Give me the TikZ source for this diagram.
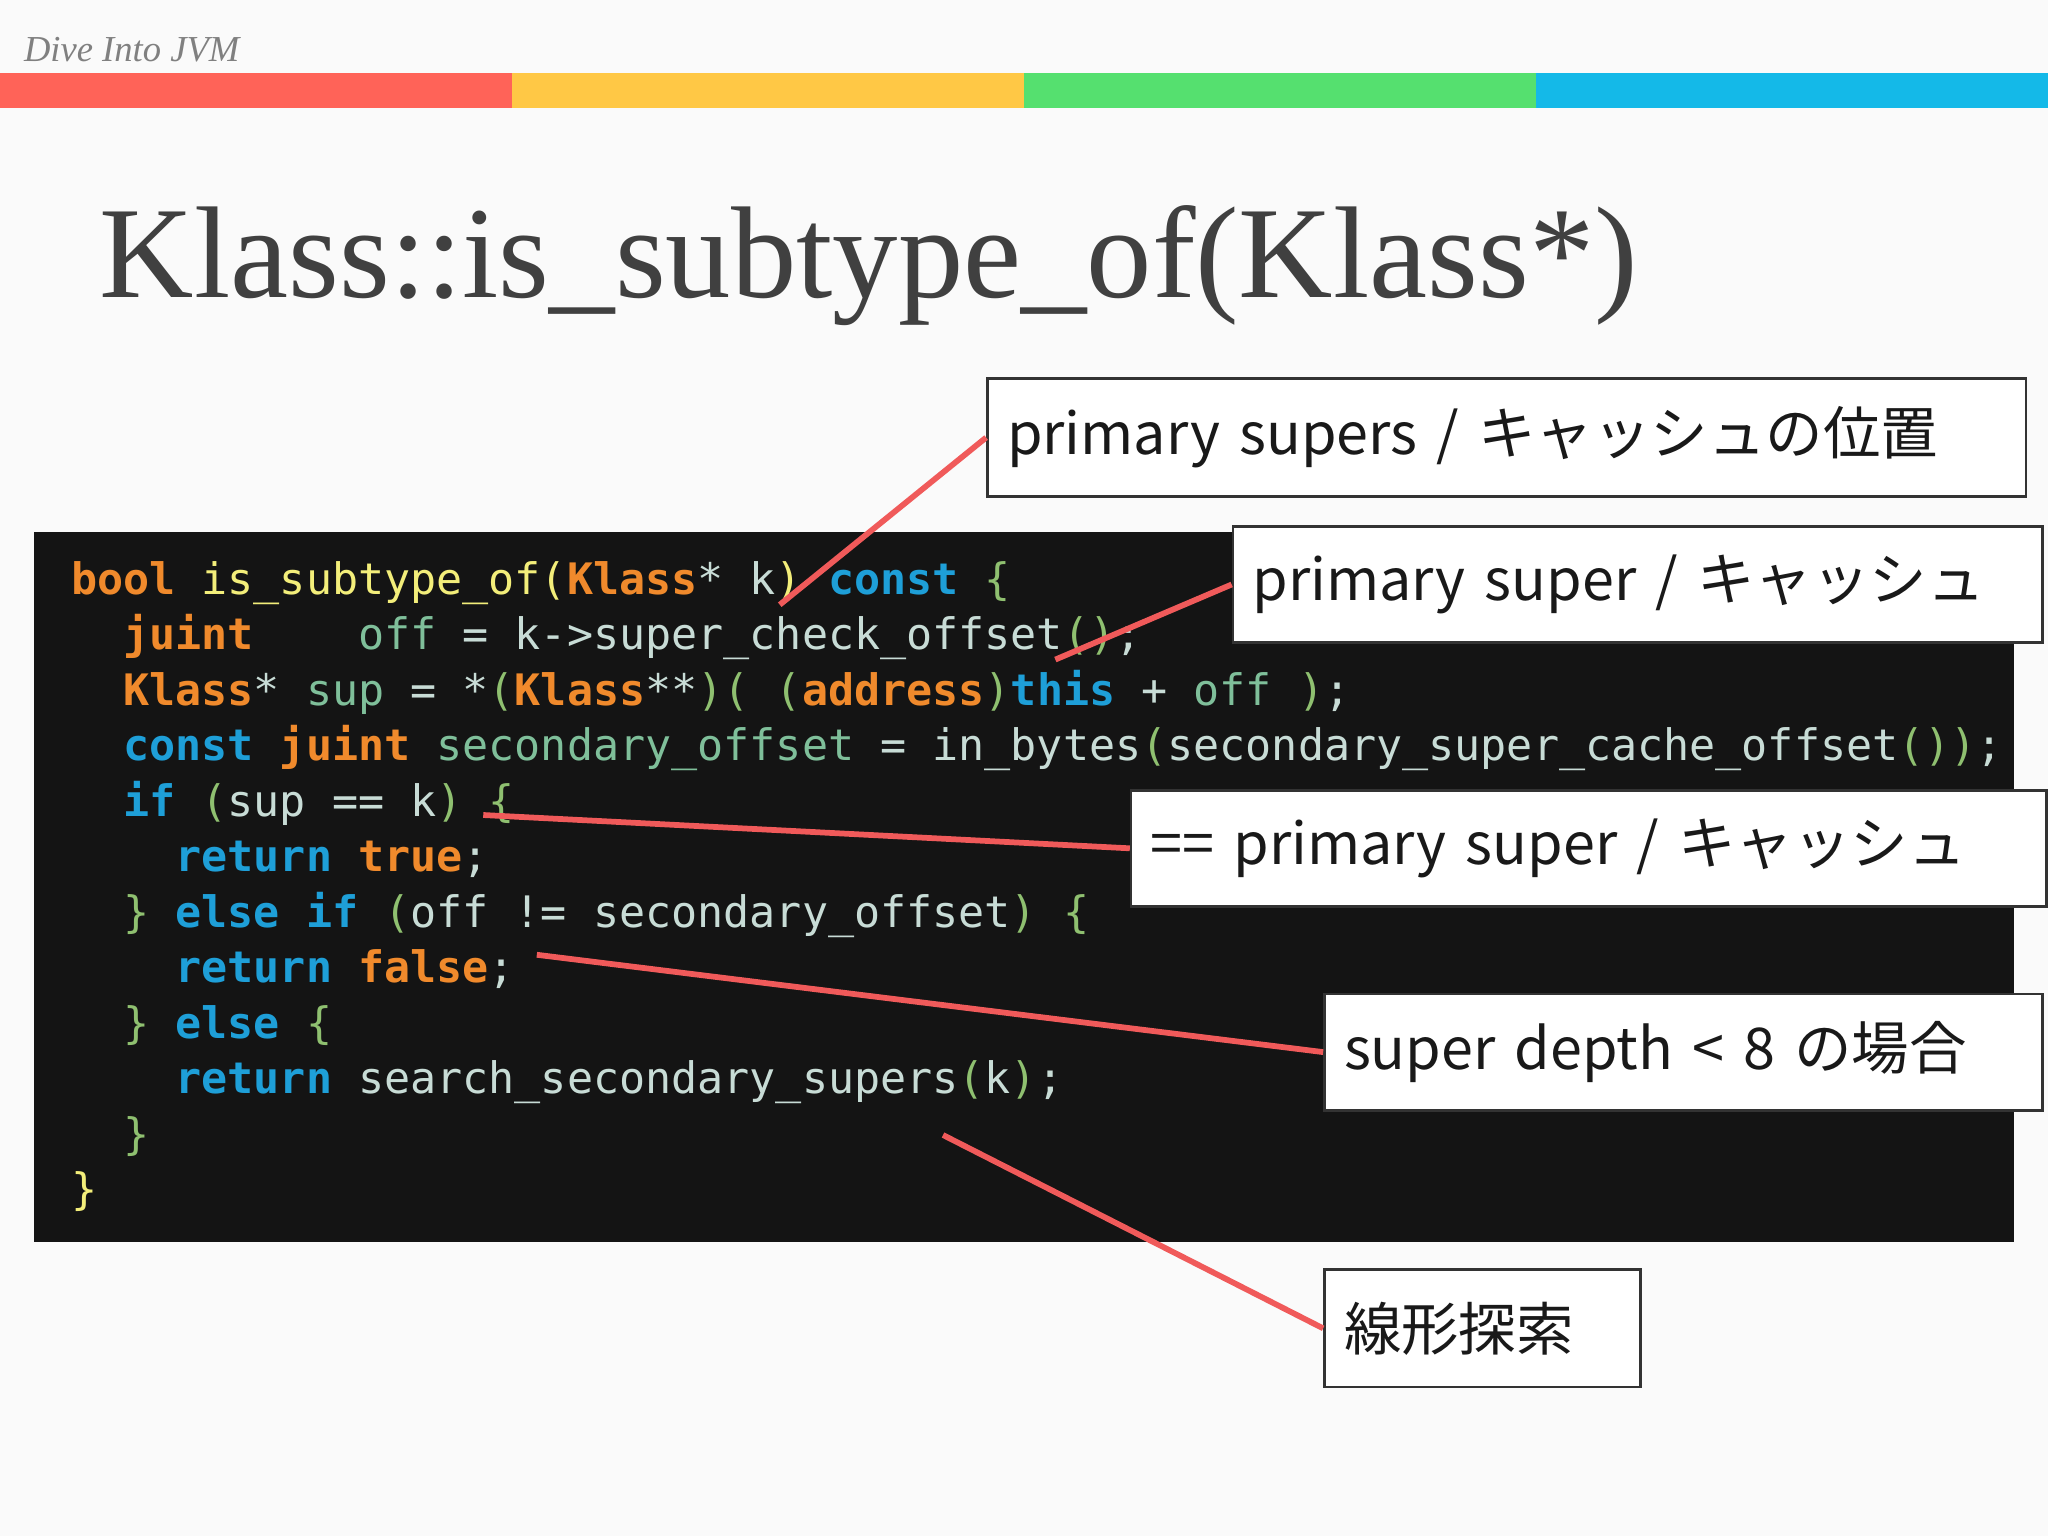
\documentclass[tikz,border=0pt]{standalone}
\usepackage{fontspec}
\setmainfont{Liberation Serif}
\setmonofont{DejaVu Sans Mono}
\newfontfamily\jpfont{Noto Sans CJK JP}
\definecolor{ko}{HTML}{F08A2C}
\definecolor{ky}{HTML}{F3EE7A}
\definecolor{kb}{HTML}{1E9FD8}
\definecolor{kv}{HTML}{7FBF9A}
\definecolor{kp}{HTML}{C8DCD6}
\definecolor{kg}{HTML}{8FC070}
\definecolor{lr}{HTML}{F05A5A}
\definecolor{c1}{HTML}{FF6358}\definecolor{c2}{HTML}{FFC845}\definecolor{c3}{HTML}{55E06F}\definecolor{c4}{HTML}{14B9E8}
\newcommand\kO[1]{\textcolor{ko}{\bfseries #1}}
\newcommand\kY[1]{\textcolor{ky}{#1}}
\newcommand\kB[1]{\textcolor{kb}{\bfseries #1}}
\newcommand\kV[1]{\textcolor{kv}{#1}}
\newcommand\kG[1]{\textcolor{kg}{#1}}
\begin{document}
\begin{tikzpicture}[x=0.5pt,y=-0.5pt,
 code/.style={anchor=base west,inner sep=0,font=\ttfamily\fontsize{16.6}{18}\selectfont,text=kp},
 lbl/.style={draw=black!80,line width=1pt,fill=white,anchor=north west,inner xsep=7.5pt,inner ysep=0pt,font=\jpfont\fontsize{22}{26}\selectfont,text=black!90,align=left},
 conn/.style={lr,line width=2.2pt}]
\useasboundingbox (0,0) rectangle (1568,1176);
\fill[white!98!black] (0,0) rectangle (1568,1176);
\node[anchor=base west,inner sep=0,text=gray,font=\itshape\fontsize{14}{16}\selectfont] at (18,47) {Dive Into JVM};
\fill[c1] (0,56) rectangle (392,83);
\fill[c2] (392,56) rectangle (784,83);
\fill[c3] (784,56) rectangle (1176,83);
\fill[c4] (1176,56) rectangle (1568,83);
\node[anchor=base west,inner sep=0,text=black!75,font=\fontsize{50}{56}\selectfont] at (76,228) {Klass::is\_subtype\_of(Klass*)};
\fill[black!92] (26,407) rectangle (1542,951);
\node[code] at (54,455) {\kO{bool}~\kY{is\_subtype\_of(}\kO{Klass}*~k\kY{)}~\kB{const}~\kG{\{}};
\node[code] at (54,497) {~~\kO{juint}~~~~\kV{off}~=~k->super\_check\_offset\kG{()};};
\node[code] at (54,540) {~~\kO{Klass}*~\kV{sup}~=~*\kG{(}\kO{Klass}**\kG{)(}~\kG{(}\kO{address}\kG{)}\kB{this}~+~\kV{off}~\kG{)};};
\node[code] at (54,582) {~~\kB{const}~\kO{juint}~\kV{secondary\_offset}~=~in\_bytes\kG{(}secondary\_super\_cache\_offset\kG{())};};
\node[code] at (54,625) {~~\kB{if}~\kG{(}sup~==~k\kG{)}~\kG{\{}};
\node[code] at (54,667) {~~~~\kB{return}~\kO{true};};
\node[code] at (54,710) {~~\kG{\}}~\kB{else}~\kB{if}~\kG{(}off~!=~secondary\_offset\kG{)}~\kG{\{}};
\node[code] at (54,752) {~~~~\kB{return}~\kO{false};};
\node[code] at (54,795) {~~\kG{\}}~\kB{else}~\kG{\{}};
\node[code] at (54,837) {~~~~\kB{return}~search\_secondary\_supers\kG{(}k\kG{)};};
\node[code] at (54,880) {~~\kG{\}}};
\node[code] at (54,922) {\kY{\}}};
\node[lbl,minimum height=90*0.5pt,text width=765*0.5pt] (b1) at (755,289) {primary supers / キャッシュの位置};
\node[lbl,minimum height=89*0.5pt,text width=590*0.5pt] (b2) at (943,402) {primary super / キャッシュ};
\node[lbl,minimum height=89*0.5pt,text width=671*0.5pt] (b3) at (865,604) {== primary super / キャッシュ};
\node[lbl,minimum height=89*0.5pt,text width=520*0.5pt] (b4) at (1013,760) {super depth < 8 の場合};
\node[lbl,minimum height=90*0.5pt,text width=212*0.5pt] (b5) at (1013,971) {線形探索};
\coordinate (p1) at (597,463);
\coordinate (p2) at (808,505);
\coordinate (p3) at (370,624);
\coordinate (p4) at (411,731);
\coordinate (p5) at (722,869);
\draw[conn] (p1) -- (b1.west);
\draw[conn] (p2) -- (b2.west);
\draw[conn] (p3) -- (b3.west);
\draw[conn] (p4) -- (b4.west);
\draw[conn] (p5) -- (b5.west);
\end{tikzpicture}
\end{document}
